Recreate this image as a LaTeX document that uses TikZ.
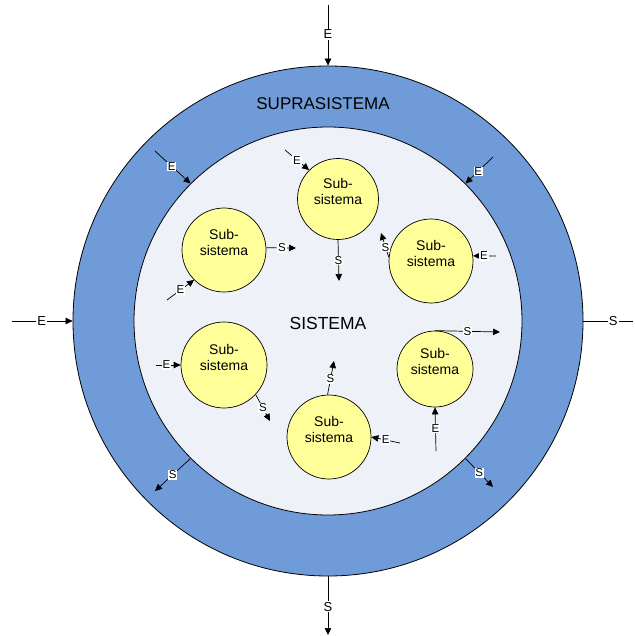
\documentclass[tikz,border=0pt]{standalone}
\usepackage{fontspec}
\setmainfont{Liberation Sans}
\usetikzlibrary{arrows.meta}
\definecolor{supraBlue}{RGB}{111,156,216}
\definecolor{sysGrey}{RGB}{238,241,247}
\definecolor{subYellow}{RGB}{255,255,153}
\tikzset{
  ring/.style={circle, draw=black, line width=0.8pt, inner sep=0pt},
  subsys/.style={circle, draw=black, line width=0.7pt, fill=subYellow, inner sep=0pt,
    minimum size=84pt, align=center, font=\fontsize{14}{15.5}\selectfont},
  flow/.style={draw=black, line width=0.7pt, -{Triangle[length=7pt,width=6.5pt]}},
  plainflow/.style={draw=black, line width=0.7pt},
  tag/.style={fill=white, inner sep=0.8pt, font=\fontsize{11.5}{11.5}\selectfont},
  bigtag/.style={fill=white, inner sep=1pt, font=\fontsize{13}{13}\selectfont},
}
% subsystem caption, set a little above the centre of its circle
\newcommand{\subcap}{Sub-\\sistema\\\mbox{}}
\begin{document}
\begin{tikzpicture}[x=1pt, y=-1pt]
\useasboundingbox (0,0) rectangle (634,636);

% environment ring and the system itself
\node[ring, fill=supraBlue, minimum size=510pt] (supra) at (328,321) {};
\node[ring, fill=sysGrey, minimum size=388pt] (sys) at (328,321) {};
\node[font=\fontsize{17}{17}\selectfont] (supralbl) at (323,104) {SUPRASISTEMA};
\node[font=\fontsize{17.5}{17.5}\selectfont] (syslbl) at (328,323) {SISTEMA};

% subsystems
\node[subsys] (s1) at (224,250) {\subcap};
\node[subsys, minimum size=81pt] (s2) at (338,199) {\subcap};
\node[subsys] (s3) at (431,261) {\subcap};
\node[subsys, minimum size=86pt] (s4) at (224,365) {\subcap};
\node[subsys] (s5) at (329,437) {\subcap};
\node[subsys, minimum size=76pt] (s6) at (435,369) {\subcap};

% free ends of the connectors
\coordinate (inT) at (328,5);
\coordinate (outB) at (328,635);
\coordinate (inL) at (12,321);
\coordinate (outR) at (633,321);
\coordinate (inNW) at (155,151);
\coordinate (inNE) at (493,157);
\coordinate (outSW) at (155,491);
\coordinate (outSE) at (493,487);

\coordinate (e1) at (167,300);
\coordinate (o1) at (296,248);
\coordinate (e2) at (285,150);
\coordinate (o2) at (339,281);
\coordinate (e3) at (496,256);
\coordinate (o3) at (381,233);
\coordinate (e4) at (156,365);
\coordinate (o4) at (270,421);
\coordinate (o5) at (334,361);
\coordinate (e5) at (400,443);
\coordinate (e6) at (436,451);
\coordinate (o6) at (500,332);

% exchanges with the environment
\draw[flow] (inT) -- (supra.north) node[pos=0.48, bigtag] {E};
\draw[flow] (supra.south) -- (outB) node[pos=0.52, bigtag] {S};
\draw[flow] (inL) -- (supra.west) node[pos=0.49, bigtag] {E};
\draw[plainflow] (supra.east) -- (outR) node[pos=0.6, bigtag] {S};

% exchanges between environment and system
\draw[flow] (inNW) -- (sys.135) node[pos=0.47, tag] {E};
\draw[flow] (inNE) -- (sys.45) node[pos=0.54, tag] {E};
\draw[flow] (sys.225) -- (outSW) node[pos=0.5, tag] {S};
\draw[flow] (sys.-45) -- (outSE) node[pos=0.5, tag] {S};

% exchanges of each subsystem
\draw[flow] (e1) -- (s1.225) node[pos=0.5, tag] {E};
\draw[flow] (s1.3) -- (o1) node[pos=0.53, tag] {S};
\draw[flow] (e2) -- (s2.135) node[pos=0.5, tag] {E};
\draw[flow] (s2.south) -- (o2) node[pos=0.5, tag] {S};
\draw[flow] (e3) -- (s3.7) node[pos=0.52, tag] {E};
\draw[flow] (s3.175) -- (o3) node[pos=0.42, tag] {S};
\draw[flow] (e4) -- (s4.west) node[pos=0.42, tag] {E};
\draw[flow] (s4.-43) -- (o4) node[pos=0.5, tag] {S};
\draw[flow] (s5.92) -- (o5) node[pos=0.47, tag] {S};
\draw[flow] (e5) -- (s5.east) node[pos=0.5, tag] {E};
\draw[flow] (e6) -- (s6.south) node[pos=0.52, tag] {E};
\draw[flow] (s6.north) -- (o6) node[pos=0.5, tag] {S};
\end{tikzpicture}
\end{document}
